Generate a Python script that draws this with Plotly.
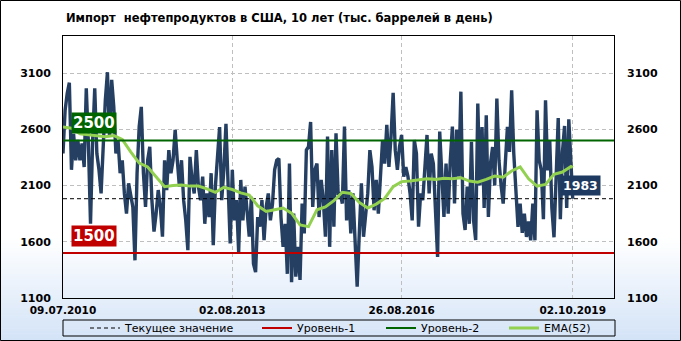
import pandas as pd
import plotly.graph_objects as go

# ---------------- data ----------------
start_date = "2010-07-09"
last_date = "2019-10-02"
x_range = ["2010-07-09", "2020-07-01"]

# biweekly readings (tys. barrels/day), last value = current value on 02.10.2019
imports = [
    2386, 2770, 2920, 3015, 2240, 2560, 2325, 2505, 2325, 2475, 2265, 2965, 2475, 1760, 2500, 2965,
    2385, 2240, 2030, 2475, 2860, 3108, 2535, 3040, 2800, 2385, 2505, 2210, 2325, 2030, 1850, 2120,
    2030, 1910, 1435, 2210, 2625, 2800, 2210, 1910, 2325, 2445, 1970, 1690, 1850, 2060, 1910, 1645,
    2325, 2060, 2415, 2210, 2325, 2595, 2325, 2090, 2325, 1970, 1790, 1525, 2355, 2150, 2030, 2415, 2090,
    1970, 2180, 1760, 2030, 1820, 2210, 1570, 2090, 2415, 2620, 1970, 2240, 2650, 2150, 1585, 2240,
    1790, 1970, 1510, 2150, 1790, 2090, 1850, 1645, 2000, 1405, 1330, 1820, 1735, 1970, 1615, 1910, 2030,
    1790, 1940, 2240, 2325, 2340, 1820, 1555, 1760, 1315, 2295, 1240, 1850, 1290, 1555, 1260, 1940,
    1675, 2415, 2445, 2665, 1910, 2240, 2295, 1820, 2150, 1970, 1645, 2535, 1555, 2415, 1735, 2565, 2030,
    2030, 1940, 2625, 1790, 2060, 1675, 2030, 1555, 1200, 1675, 2120, 1645, 1820, 2030, 2415, 2265,
    1880, 2150, 1850, 2240, 2505, 2295, 2640, 2265, 2535, 2925, 2415, 2240, 2445, 2550, 2180, 2265, 2180,
    2030, 1790, 2505, 2385, 1735, 2030, 1970, 2265, 2550, 2030, 2385, 2295, 1940, 1465, 2580, 2240,
    1820, 2295, 1850, 2325, 2625, 1940, 2595, 2180, 2935, 1850, 1705, 2090, 1760, 2490, 1790, 1615, 2830,
    2100, 2620, 1900, 2725, 1820, 2300, 2443, 2100, 2874, 2325, 2100, 1940, 2300, 2621, 2400, 2948,
    2385, 2100, 1732, 1940, 1680, 1850, 1643, 1780, 1613, 1940, 1613, 2770, 2325, 2236, 1800, 2859,
    2236, 2500, 1900, 1640, 2300, 2700, 1800, 2400, 2630, 1900, 2690, 2300,
    1983,
]

ema52 = [
    2620, 2610, 2560, 2550, 2545, 2535, 2545, 2510, 2400, 2300, 2265, 2180, 2090, 2100, 2105, 2095,
    2095, 2070, 2040, 2085, 2065, 2035, 2015, 1920, 1870, 1885, 1900, 1855, 1750, 1735, 1885, 1910,
    1965, 2040, 2030, 1950, 1900, 1935, 1985, 2090, 2135, 2140, 2150, 2160, 2155, 2165, 2160, 2170,
    2140, 2130, 2155, 2185, 2175, 2230, 2265, 2160, 2095, 2110, 2200, 2220, 2270,
    2260,
]

current_value = 1983
level_1 = 1500
level_2 = 2500

tick_dates = ["2010-07-09", "2013-08-02", "2016-08-26", "2019-10-02"]
tick_text = ["09.07.2010", "02.08.2013", "26.08.2016", "02.10.2019"]
y_ticks = [1100, 1600, 2100, 2600, 3100]
y_range = [1100, 3430]

dates = list(pd.date_range(start_date, periods=len(imports) - 1, freq="14D").strftime("%Y-%m-%d")) + [last_date]
ema_dates = dates[:-1:4] + [last_date]

# ---------------- styles ----------------
FONT = "DejaVu Sans"
NAVY = "#243F62"
RED = "#C00000"
GREEN = "#006400"
LIGHT_GREEN = "#92D050"
GRID = "#BFBFBF"

W, H = 681, 341
ML, MR, MT, MB = 63, 67, 36, 43
PW, PH = W - ML - MR, H - MT - MB


def py(ypx):  # pixel row -> paper y
    return (MT + PH - ypx) / PH


def px(xpx):  # pixel column -> paper x
    return (xpx - ML) / PW


fig = go.Figure()

fig.add_trace(go.Scatter(x=dates, y=imports, mode="lines", showlegend=False,
                         line=dict(color=NAVY, width=3.4), hoverinfo="skip"))
fig.add_trace(go.Scatter(x=x_range, y=[current_value, current_value], mode="lines",
                         name="Текущее значение", legend="legend",
                         line=dict(color="black", width=1, dash="4px,3px")))
fig.add_trace(go.Scatter(x=x_range, y=[level_1, level_1], mode="lines", name="Уровень-1",
                         legend="legend2", line=dict(color=RED, width=2)))
fig.add_trace(go.Scatter(x=x_range, y=[level_2, level_2], mode="lines", name="Уровень-2",
                         legend="legend3", line=dict(color=GREEN, width=2), yaxis="y2"))
fig.add_trace(go.Scatter(x=ema_dates, y=ema52, mode="lines", name="EMA(52)",
                         legend="legend4", line=dict(color=LIGHT_GREEN, width=3)))

# background gradient (bands) + frames
shapes = []
g_top, g_bot, nb = 238, H, 40
c0, c1 = (255, 255, 255), (211, 227, 247)
for i in range(nb):
    y0 = g_top + (g_bot - g_top) * i / nb
    y1 = g_top + (g_bot - g_top) * (i + 1) / nb
    t = (i + 0.5) / nb
    col = tuple(round(c0[j] + (c1[j] - c0[j]) * t) for j in range(3))
    shapes.append(dict(type="rect", xref="paper", yref="paper", x0=px(0), x1=px(W),
                       y0=py(y1 + 0.5), y1=py(y0), line=dict(width=0),
                       fillcolor="rgb(%d,%d,%d)" % col, layer="below"))
shapes.append(dict(type="rect", xref="paper", yref="paper", x0=px(0.5), x1=px(W - 0.5),
                   y0=py(H - 0.5), y1=py(0.5), line=dict(color="black", width=1),
                   fillcolor="rgba(0,0,0,0)", layer="above"))
shapes.append(dict(type="rect", xref="paper", yref="paper", x0=0, x1=px(615),
                   y0=py(336), y1=py(320), line=dict(color="black", width=1),
                   fillcolor="rgba(0,0,0,0)", layer="above"))

tickfont = dict(family=FONT, size=11, color="black", weight="bold")
legfont = dict(family=FONT, size=11, color="black")


def leg(xpx):
    return dict(x=px(xpx), y=py(328), xanchor="left", yanchor="middle", orientation="h",
                bgcolor="rgba(0,0,0,0)", borderwidth=0, font=legfont)


fig.update_layout(
    width=W, height=H,
    margin=dict(l=ML, r=MR, t=MT, b=MB, autoexpand=False),
    paper_bgcolor="white",
    plot_bgcolor="rgba(0,0,0,0)",
    title=dict(text="Импорт\u00a0\u00a0нефтепродуктов в США, 10 лет (тыс. баррелей в день)",
               x=66 / W, xanchor="left", xref="container", y=1 - 18 / H, yanchor="middle",
               yref="container", font=dict(family=FONT, size=11.5, color="black", weight="bold")),
    xaxis=dict(type="date", range=x_range, tickvals=tick_dates, ticktext=tick_text,
               showgrid=True, gridcolor=GRID, griddash="4px,3px", gridwidth=1,
               showline=True, mirror=True, linecolor="black", linewidth=1,
               ticks="", zeroline=False, tickfont=dict(family=FONT, size=10.5, color="black", weight="bold"),
               ticklabelstandoff=2),
    yaxis=dict(range=y_range, tickvals=y_ticks, showgrid=True, gridcolor=GRID, griddash="4px,3px",
               gridwidth=1, showline=True, mirror=True, linecolor="black", linewidth=1, ticks="",
               zeroline=False, tickfont=tickfont, ticklabelstandoff=9),
    yaxis2=dict(range=y_range, tickvals=y_ticks, overlaying="y", side="right", matches="y",
                showgrid=False, showline=False, ticks="", zeroline=False, tickfont=tickfont,
                ticklabelstandoff=12),
    legend=leg(85), legend2=leg(257), legend3=leg(381), legend4=leg(504),
    shapes=shapes,
    annotations=[
        dict(text="<b>2500</b>", xref="paper", x=px(94), yref="y", y=level_2, yshift=18,
             showarrow=False, bgcolor=GREEN, font=dict(family=FONT, size=15, color="white"),
             borderpad=1, xanchor="center", yanchor="middle"),
        dict(text="<b>1500</b>", xref="paper", x=px(94), yref="y", y=level_1, yshift=17,
             showarrow=False, bgcolor=RED, font=dict(family=FONT, size=15, color="white"),
             borderpad=1, xanchor="center", yanchor="middle"),
        dict(text="<b>1983</b>", x=last_date, yref="y", y=current_value, xshift=8, yshift=13,
             showarrow=False, bgcolor="#1F3A60", font=dict(family=FONT, size=12.5, color="white"),
             borderpad=2, xanchor="center", yanchor="middle"),
    ],
)

fig.write_html("out.html")
